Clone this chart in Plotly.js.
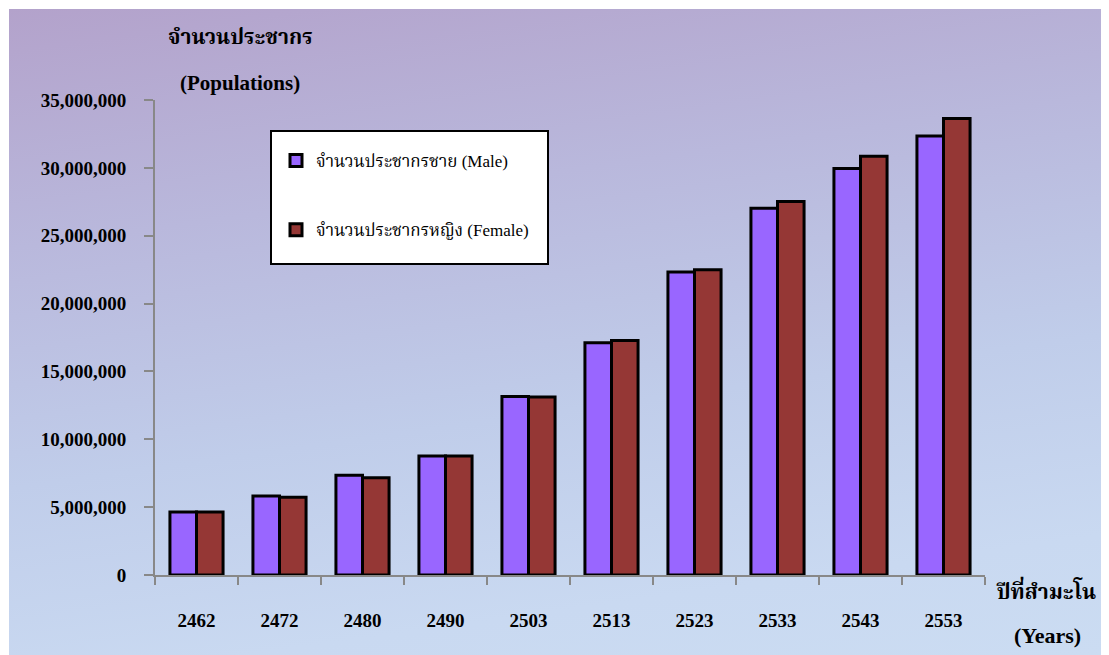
<!DOCTYPE html>
<html>
<head>
<meta charset="utf-8">
<script src="https://cdn.plot.ly/plotly-3.0.1.min.js"></script>
<style>
  html, body { margin: 0; padding: 0; background: #ffffff; }
  #wrap { position: absolute; left: 9px; top: 9px; width: 1092px; height: 646px;
          background: linear-gradient(172deg, #b3a2cb 0%, #b9b8dc 30%, #c0cdea 60%, #c9d9f1 85%, #cbdcf2 100%); }
  #chart { position: absolute; left: -9px; top: -9px; width: 1109px; height: 655px; }
</style>
</head>
<body>
<div id="wrap"><div id="chart"></div></div>
<script>
const years = ['2462', '2472', '2480', '2490', '2503', '2513', '2523', '2533', '2543', '2553'];
const maleValues = [4640000, 5820000, 7350000, 8770000, 13150000, 17120000, 22330000, 27030000, 29950000, 32350000];
const femaleValues = [4640000, 5720000, 7170000, 8770000, 13110000, 17280000, 22490000, 27520000, 30860000, 33630000];
const yTickVals = [0, 5000000, 10000000, 15000000, 20000000, 25000000, 30000000, 35000000];
const yTickText = ['0', '5,000,000', '10,000,000', '15,000,000', '20,000,000', '25,000,000', '30,000,000', '35,000,000'];

const serif = "'Liberation Serif', 'Times New Roman', 'Noto Serif Thai', 'Noto Sans Thai', serif";

const traces = [
  { type: 'bar', name: 'จำนวนประชากรชาย (Male)', x: years, y: maleValues,
    legendgroup: 'm', marker: { color: '#9966ff', line: { color: '#000000', width: 3 } } },
  { type: 'bar', name: 'จำนวนประชากรหญิง (Female)', x: years, y: femaleValues,
    legendgroup: 'f', marker: { color: '#953735', line: { color: '#000000', width: 3 } } }
];

const px = v => (v - 155) / 830;
const py = v => (575 - v) / 475;

const layout = {
  width: 1109, height: 655,
  margin: { l: 155, r: 124, t: 100, b: 80 },
  paper_bgcolor: 'rgba(0,0,0,0)',
  plot_bgcolor: 'rgba(0,0,0,0)',
  barmode: 'group',
  bargap: 0.36,
  bargroupgap: 0,
  showlegend: true,
  font: { family: serif, color: '#000000' },
  legend: {
    x: px(276), y: py(143), xanchor: 'left', yanchor: 'top',
    bgcolor: 'rgba(0,0,0,0)', borderwidth: 0,
    font: { family: serif, size: 17, color: '#000000' },
    traceorder: 'grouped', tracegroupgap: 44
  },
  shapes: [
    { type: 'rect', xref: 'paper', yref: 'paper', layer: 'above',
      x0: px(271), x1: px(548), y0: py(264), y1: py(131),
      fillcolor: '#ffffff', line: { color: '#000000', width: 2 } }
  ],
  xaxis: {
    type: 'category', tickson: 'boundaries', ticks: 'outside', ticklen: 8, tickwidth: 2, tickcolor: '#888888',
    showline: true, linecolor: '#888888', linewidth: 2, showgrid: false, zeroline: false,
    ticklabelstandoff: 27,
    tickfont: { family: serif, size: 19, color: '#000000', weight: 'bold' }
  },
  yaxis: {
    range: [0, 35000000], tickvals: yTickVals, ticktext: yTickText,
    ticks: 'outside', ticklen: 9, tickwidth: 2, tickcolor: '#888888',
    showline: true, linecolor: '#888888', linewidth: 2, showgrid: false, zeroline: false,
    ticklabelstandoff: 14,
    tickfont: { family: serif, size: 19, color: '#000000', weight: 'bold' }
  },
  annotations: [
    { text: '<b>จำนวนประชากร</b>', xref: 'paper', yref: 'paper', x: px(240), y: py(37),
      xanchor: 'center', yanchor: 'middle', showarrow: false, font: { family: serif, size: 21 } },
    { text: '<b>(Populations)</b>', xref: 'paper', yref: 'paper', x: px(240), y: py(83),
      xanchor: 'center', yanchor: 'middle', showarrow: false, font: { family: serif, size: 21 } },
    { text: '<b>ปีที่สำมะโน</b>', xref: 'paper', yref: 'paper', x: px(1046), y: py(590),
      xanchor: 'center', yanchor: 'middle', showarrow: false, font: { family: serif, size: 21 } },
    { text: '<b>(Years)</b>', xref: 'paper', yref: 'paper', x: px(1047), y: py(635),
      xanchor: 'center', yanchor: 'middle', showarrow: false, font: { family: serif, size: 22 } }
  ]
};

Plotly.newPlot('chart', traces, layout, { displayModeBar: false, responsive: false });
</script>
</body>
</html>
